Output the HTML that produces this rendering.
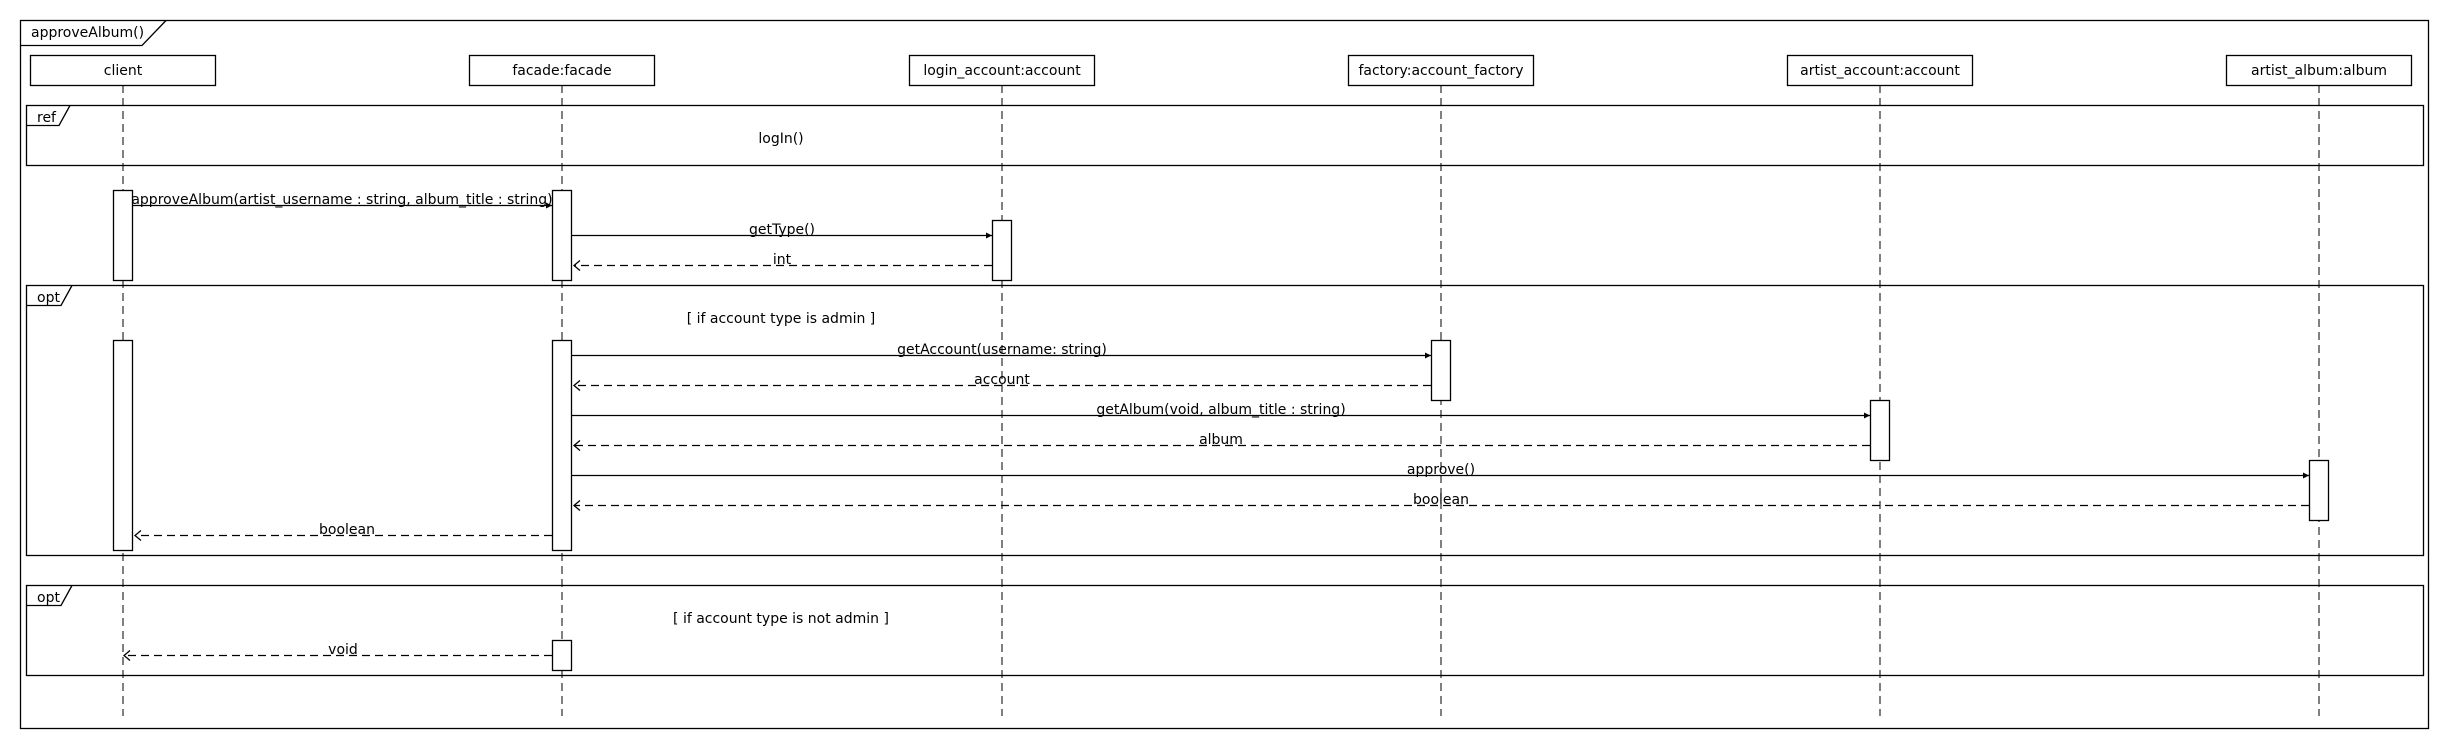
<!DOCTYPE html>
<html><head><meta charset="utf-8"><style>
html,body{margin:0;padding:0;background:#fff;}
svg{display:block;}
text{font-family:"DejaVu Sans","Liberation Sans",sans-serif;font-size:14px;fill:#000;}
</style></head><body>
<svg width="2450" height="750" viewBox="0 0 2450 750" xmlns="http://www.w3.org/2000/svg">
<defs>
<marker id="f" markerWidth="8" markerHeight="8" refX="6" refY="3" orient="auto" markerUnits="userSpaceOnUse"><path d="M0,0 L6,3 L0,6 z" fill="#000"/></marker>
</defs>
<rect x="0" y="0" width="2450" height="750" fill="#fff"/>
<!-- lifelines -->
<g stroke="#000" stroke-width="1" stroke-dasharray="8,5" fill="none">
<line x1="123" y1="85" x2="123" y2="716"/>
<line x1="562" y1="85" x2="562" y2="716"/>
<line x1="1002" y1="85" x2="1002" y2="716"/>
<line x1="1441" y1="85" x2="1441" y2="716"/>
<line x1="1880" y1="85" x2="1880" y2="716"/>
<line x1="2319" y1="85" x2="2319" y2="716"/>
</g>
<g fill="none" stroke="#000" stroke-width="1.3">
<!-- outer frame -->
<rect x="20.5" y="20.5" width="2408" height="708"/>
<path d="M20.5,45.5 H142 L166,20.5"/>
<!-- ref -->
<rect x="26.5" y="105.5" width="2397" height="60"/>
<path d="M26.5,125.5 H59 L70,105.5"/>
<!-- opt1 -->
<rect x="26.5" y="285.5" width="2397" height="270"/>
<path d="M26.5,305.5 H61 L72,285.5"/>
<!-- opt2 -->
<rect x="26.5" y="585.5" width="2397" height="90"/>
<path d="M26.5,605.5 H61 L72,585.5"/>
</g>
<!-- heads -->
<g fill="#fff" stroke="#000" stroke-width="1.3">
<rect x="30.5" y="55.5" width="185" height="30"/>
<rect x="469.5" y="55.5" width="185" height="30"/>
<rect x="909.5" y="55.5" width="185" height="30"/>
<rect x="1348.5" y="55.5" width="185" height="30"/>
<rect x="1787.5" y="55.5" width="185" height="30"/>
<rect x="2226.5" y="55.5" width="185" height="30"/>
<!-- activation bars -->
<rect x="113.5" y="190.5" width="19" height="90"/>
<rect x="552.5" y="190.5" width="19" height="90"/>
<rect x="992.5" y="220.5" width="19" height="60"/>
<rect x="113.5" y="340.5" width="19" height="210"/>
<rect x="552.5" y="340.5" width="19" height="210"/>
<rect x="1431.5" y="340.5" width="19" height="60"/>
<rect x="1870.5" y="400.5" width="19" height="60"/>
<rect x="2309.5" y="460.5" width="19" height="60"/>
<rect x="552.5" y="640.5" width="19" height="30"/>
</g>
<!-- calls -->
<g stroke="#000" stroke-width="1.3" fill="none" marker-end="url(#f)">
<line x1="133" y1="205.5" x2="552" y2="205.5"/>
<line x1="572" y1="235.5" x2="992" y2="235.5"/>
<line x1="572" y1="355.5" x2="1431" y2="355.5"/>
<line x1="572" y1="415.5" x2="1870" y2="415.5"/>
<line x1="572" y1="475.5" x2="2309" y2="475.5"/>
</g>
<!-- returns -->
<g stroke="#000" stroke-width="1.3" fill="none">
<g stroke-dasharray="8,5">
<line x1="992" y1="265.5" x2="574" y2="265.5"/>
<line x1="1431" y1="385.5" x2="574" y2="385.5"/>
<line x1="1870" y1="445.5" x2="574" y2="445.5"/>
<line x1="2309" y1="505.5" x2="574" y2="505.5"/>
<line x1="552" y1="535.5" x2="135" y2="535.5"/>
<line x1="552" y1="655.5" x2="124" y2="655.5"/>
</g>
<path d="M580,260.5 L574,265.5 L580,270.5"/>
<path d="M580,380.5 L574,385.5 L580,390.5"/>
<path d="M580,440.5 L574,445.5 L580,450.5"/>
<path d="M580,500.5 L574,505.5 L580,510.5"/>
<path d="M141,530.5 L135,535.5 L141,540.5"/>
<path d="M130,650.5 L124,655.5 L130,660.5"/>
</g>
<!-- text -->
<text x="31" y="37">approveAlbum()</text>
<text x="37" y="122">ref</text>
<text x="37" y="302">opt</text>
<text x="37" y="602">opt</text>
<g text-anchor="middle">
<text x="123" y="75">client</text>
<text x="562" y="75">facade:facade</text>
<text x="1002" y="75">login_account:account</text>
<text x="1441" y="75">factory:account_factory</text>
<text x="1880" y="75">artist_account:account</text>
<text x="2319" y="75">artist_album:album</text>
<text x="781" y="143">logIn()</text>
<text x="342" y="204">approveAlbum(artist_username : string, album_title : string)</text>
<text x="782" y="234">getType()</text>
<text x="782" y="264">int</text>
<text x="781" y="323">[ if account type is admin ]</text>
<text x="1002" y="354">getAccount(username: string)</text>
<text x="1002" y="384">account</text>
<text x="1221" y="414">getAlbum(void, album_title : string)</text>
<text x="1221" y="444">album</text>
<text x="1441" y="474">approve()</text>
<text x="1441" y="504">boolean</text>
<text x="347" y="534">boolean</text>
<text x="781" y="623">[ if account type is not admin ]</text>
<text x="343" y="654">void</text>
</g>
</svg>
</body></html>
